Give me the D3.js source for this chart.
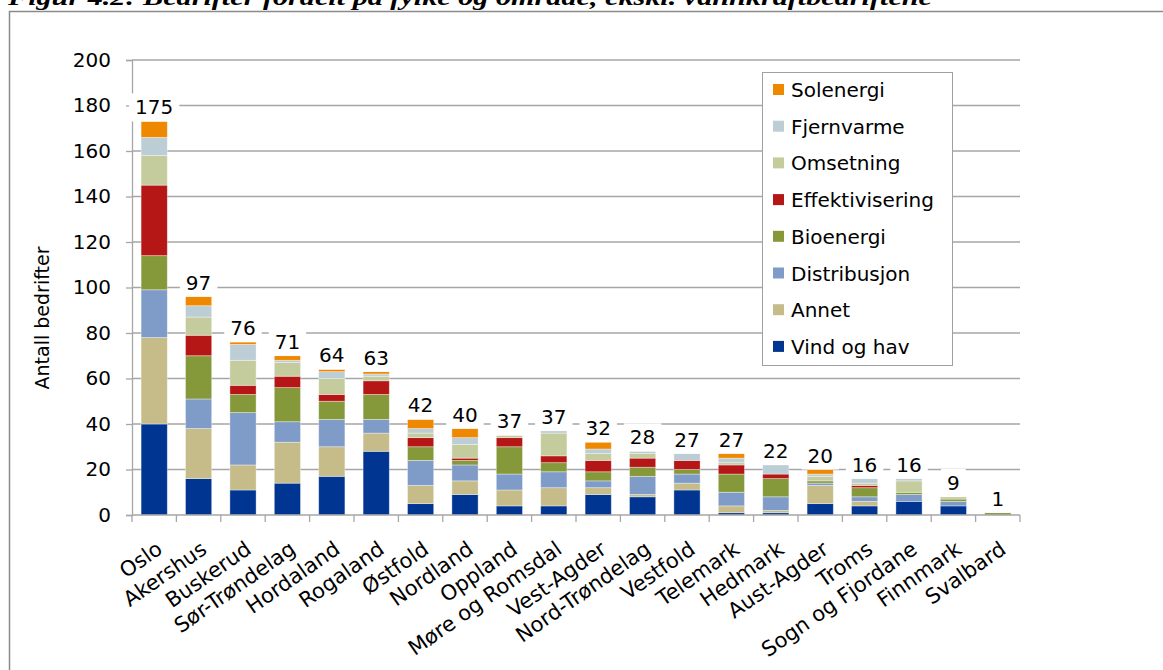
<!DOCTYPE html>
<html><head><meta charset="utf-8">
<script src="https://cdn.jsdelivr.net/npm/d3@7"></script>
<style>
html,body{margin:0;padding:0;background:#fff;}
svg{display:block;}
</style></head>
<body>
<script>
const categories = ["Oslo","Akershus","Buskerud","Sør-Trøndelag","Hordaland","Rogaland","Østfold","Nordland","Oppland","Møre og Romsdal","Vest-Agder","Nord-Trøndelag","Vestfold","Telemark","Hedmark","Aust-Agder","Troms","Sogn og Fjordane","Finnmark","Svalbard"];
const seriesNames = ["Vind og hav","Annet","Distribusjon","Bioenergi","Effektivisering","Omsetning","Fjernvarme","Solenergi"];
const vindOgHav       = [40,16,11,14,17,28,5,9,4,4,9,8,11,1,1,5,4,6,4,0];
const annet           = [38,22,11,18,13,8,8,6,7,8,3,1,3,3,1,8,2,0,0,0];
const distribusjon    = [21,13,23,9,12,6,11,7,7,7,3,8,4,6,6,1,2,3,2,0];
const bioenergi       = [15,19,8,15,8,11,6,2,12,4,4,4,2,8,8,1,4,1,1,1];
const effektivisering = [31,9,4,5,3,6,4,1,4,3,5,4,4,4,2,0,1,0,0,0];
const omsetning       = [13,8,11,6,7,2,2,6,1,10,3,2,0,1,0,2,1,5,1,0];
const fjernvarme      = [8,5,7,1,3,1,2,3,0,1,2,1,3,2,4,1,2,1,0,0];
const solenergi       = [7,4,1,2,1,1,4,4,0,0,3,0,0,2,0,2,0,0,0,0];
const totalLabels     = [175,97,76,71,64,63,42,40,37,37,32,28,27,27,22,20,16,16,9,1];
const yTicks = [0,20,40,60,80,100,120,140,160,180,200];
const colors = ["#003591","#C6BC8A","#7F9BC8","#86993A","#B51616","#C4CC9E","#BDCDD6","#EE8800"];
const titleText = "Figur 4.2: Bedrifter fordelt på fylke og område, ekskl. vannkraftbedriftene";
const yTitle = "Antall bedrifter";

const seriesValues = [vindOgHav, annet, distribusjon, bioenergi, effektivisering, omsetning, fjernvarme, solenergi];
const table = categories.map((c,i)=>{
  const o = {cat:c};
  seriesNames.forEach((s,j)=>o[s]=seriesValues[j][i]);
  return o;
});

const W = 1163, H = 670;
const svg = d3.select("body").append("svg").attr("width",W).attr("height",H);
const font = "'DejaVu Sans', Verdana, sans-serif";

// title (cut at top, as in the reference)
svg.append("text").attr("x",8).attr("y",5)
  .attr("font-family","'Liberation Serif', 'Times New Roman', serif")
  .attr("font-style","italic").attr("font-weight","bold")
  .attr("font-size",24).attr("fill","#000")
  .attr("textLength",924).attr("lengthAdjust","spacingAndGlyphs")
  .text(titleText);

// frame
svg.append("rect").attr("x",9.5).attr("y",11.5).attr("width",1200).attr("height",700)
  .attr("fill","none").attr("stroke","#8a8a8a").attr("stroke-width",1.5);

const plot = {left:132, right:1020, top:60, bottom:515};
const x = d3.scaleBand().domain(categories).range([plot.left, plot.right]).paddingInner(0.41).paddingOuter(0.205);
const y = d3.scaleLinear().domain([0,200]).range([plot.bottom, plot.top]);

// grid
svg.append("g").selectAll("line").data(yTicks.filter(d=>d>0)).join("line")
  .attr("x1",plot.left).attr("x2",plot.right)
  .attr("y1",d=>y(d)).attr("y2",d=>y(d))
  .attr("stroke","#a6a6a6").attr("stroke-width",1.3);

// y axis
const yAxis = svg.append("g").attr("transform",`translate(${plot.left},0)`)
  .call(d3.axisLeft(y).tickValues(yTicks).tickSize(6).tickPadding(15));
yAxis.select(".domain").attr("stroke","#a6a6a6").attr("stroke-width",1.3);
yAxis.selectAll(".tick line").attr("stroke","#a6a6a6").attr("stroke-width",1.3);
yAxis.selectAll(".tick text").attr("font-family",font).attr("font-size",20).attr("fill","#000");

svg.append("text").attr("transform","translate(49,318) rotate(-90)")
  .attr("text-anchor","middle").attr("font-family",font).attr("font-size",19)
  .attr("fill","#000").text(yTitle);

// stacked bars
const stack = d3.stack().keys(seriesNames)(table);
svg.append("g").selectAll("g").data(stack).join("g")
  .attr("fill",(d,i)=>colors[i])
  .selectAll("rect").data(d=>d).join("rect")
  .attr("x",d=>x(d.data.cat)).attr("width",x.bandwidth())
  .attr("y",d=>y(d[1])).attr("height",d=>Math.max(0,y(d[0])-y(d[1])))
  .attr("stroke","rgba(255,255,255,0.45)").attr("stroke-width",0.8);

// x axis
const xAxisG = svg.append("g").attr("transform",`translate(0,${plot.bottom})`);
xAxisG.append("line").attr("x1",plot.left).attr("x2",plot.right).attr("y1",0).attr("y2",0)
  .attr("stroke","#a6a6a6").attr("stroke-width",1.3);
const step = x.step();
xAxisG.selectAll("line.tk").data(d3.range(categories.length+1)).join("line").attr("class","tk")
  .attr("x1",i=>plot.left+i*step).attr("x2",i=>plot.left+i*step)
  .attr("y1",0).attr("y2",7).attr("stroke","#a6a6a6").attr("stroke-width",1.3);
xAxisG.selectAll("text").data(categories).join("text")
  .attr("transform",d=>`translate(${x(d)+x.bandwidth()/2+1},25) rotate(-35)`)
  .attr("text-anchor","end").attr("dy","0.71em")
  .attr("font-family",font).attr("font-size",21).attr("fill","#000").text(d=>d);

// total labels with white background
const totals = table.map(r=>d3.sum(seriesNames,s=>r[s]));
const lg = svg.append("g");
categories.forEach((c,i)=>{
  const g = lg.append("g");
  const t = g.append("text").attr("x",x(c)+x.bandwidth()/2).attr("y",y(totals[i])-7)
    .attr("text-anchor","middle").attr("font-family",font).attr("font-size",20).attr("fill","#000")
    .text(totalLabels[i]);
  const b = t.node().getBBox();
  g.insert("rect","text").attr("x",b.x-6).attr("y",b.y-2).attr("width",b.width+12).attr("height",b.height+4).attr("fill","#fff");
});

// legend
const leg = svg.append("g");
leg.append("rect").attr("x",762.5).attr("y",72.5).attr("width",190).attr("height",293)
  .attr("fill","#fff").attr("stroke","#a0a0a0").attr("stroke-width",1);
const legOrder = seriesNames.map((s,i)=>({s,c:colors[i]})).reverse();
const items = leg.selectAll("g.it").data(legOrder).join("g").attr("class","it")
  .attr("transform",(d,i)=>`translate(0,${90+i*36.7})`);
items.append("rect").attr("x",773).attr("y",-6).attr("width",11).attr("height",11).attr("fill",d=>d.c);
items.append("text").attr("x",791).attr("y",0).attr("dy","0.35em")
  .attr("font-family",font).attr("font-size",20).attr("fill","#000").text(d=>d.s);
</script>
</body></html>
